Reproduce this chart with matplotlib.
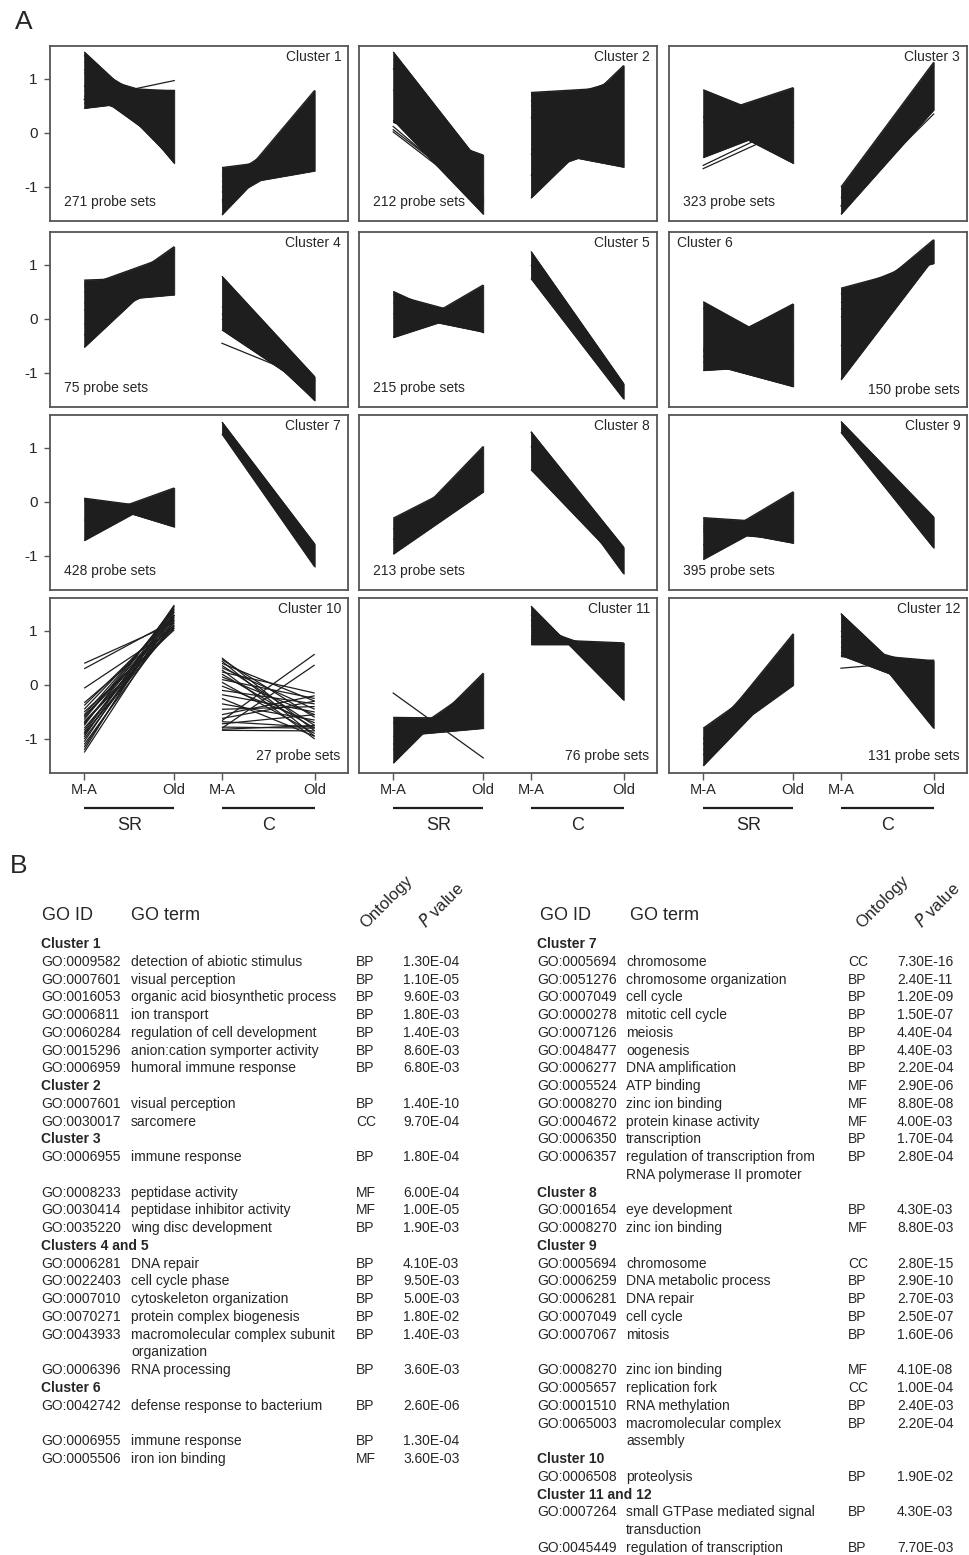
#!/usr/bin/env python3
"""Expression profiles of the 12 probe-set clusters (A) and GO enrichment table (B)."""
import matplotlib
matplotlib.use("Agg")
import matplotlib.pyplot as plt
import numpy as np

plt.rcParams["font.family"] = ["Liberation Sans", "DejaVu Sans"]

# ── panel A data: representative probe-set profiles (M-A value, Old value) ──

PROBE_SETS = [271, 212, 323, 75, 215, 150, 428, 213, 395, 27, 76, 131]

cl1_sr_ma = [1.50, 1.32, 1.11, 0.875, 0.80, 0.46, 0.68, 0.87, 1.18, 1.44, 0.55]
cl1_sr_old = [-0.05, 0.32, 0.61, 0.775, 0.80, 0.66, 0.08, -0.33, -0.52, -0.56, 0.75]
cl1_c_ma = [-0.64, -1.25, -1.51, -1.00, -0.75, -0.80, -1.10, -1.29, -0.90]
cl1_c_old = [-0.42, 0.79, 0.28, -0.70, -0.55, -0.45, 0.40, -0.29, 0.20]

cl2_sr_ma = [1.50, 0.20, 0.24, 1.20, 0.80]
cl2_sr_old = [-0.63, -0.41, -1.50, -1.50, -0.90]
cl2_c_ma = [0.75, -0.40, -1.20, -0.30, 0.60, 0.30, 0.70, 0.50, -0.80, 0.27, -0.77]
cl2_c_old = [0.85, 1.25, 0.47, -0.63, -0.50, -0.40, 0.30, 1.00, 0.90, 1.07, -0.17]

cl3_sr_ma = [0.80, 0.29, -0.45, 0.30, 0.20]
cl3_sr_old = [0.13, 0.84, 0.19, -0.56, 0.80]
cl3_c_ma = [-1.00, -1.50, -1.20]
cl3_c_old = [1.31, 0.43, 0.90]

cl4_sr_ma = [0.72, 0.16, -0.52, 0.30, 0.60, -0.30, 0.65, 0.50, -0.10]
cl4_sr_old = [0.78, 1.34, 1.04, 0.45, 1.20, 1.25, 0.45, 1.10, 0.70]
cl4_c_ma = [0.79, 0.23, 0.00, -0.20, 0.10]
cl4_c_old = [-1.07, -1.51, -1.40, -1.35, -1.50]

cl5_sr_ma = [0.51, -0.34, 0.10, -0.34, 0.45, 0.30]
cl5_sr_old = [-0.25, 0.63, -0.24, 0.20, 0.00, 0.05]
cl5_c_ma = [1.25, 0.75, 1.00]
cl5_c_old = [-1.20, -1.48, -1.35]

cl6_sr_ma = [0.32, -0.60, -0.95, -0.80, -0.56, -0.70, 0.20]
cl6_sr_old = [-0.60, 0.28, -0.85, -1.25, 0.25, 0.20, -1.10]
cl6_c_ma = [0.57, 0.03, -1.12, 0.30, -0.50, 0.45, 0.47, 0.18]
cl6_c_old = [1.03, 1.47, 1.13, 1.25, 1.30, 1.15, 1.17, 1.38]

cl7_sr_ma = [0.07, -0.34, -0.71, 0.05, 0.02]
cl7_sr_old = [-0.15, 0.26, 0.20, -0.46, -0.42]
cl7_c_ma = [1.48, 1.26]
cl7_c_old = [-0.78, -1.20]

cl8_sr_ma = [-0.30, -0.70, -0.96, -0.50]
cl8_sr_old = [0.55, 1.03, 0.19, 0.70]
cl8_c_ma = [1.30, 1.30, 0.60, 1.03]
cl8_c_old = [-0.84, -1.00, -1.19, -1.33]

cl9_sr_ma = [-0.29, -0.80, -1.06, -0.45, -0.50, -0.55]
cl9_sr_old = [-0.40, 0.19, -0.15, -0.76, -0.72, -0.70]
cl9_c_ma = [1.49, 1.29]
cl9_c_old = [-0.28, -0.85]

cl10_sr_ma = [0.40, 0.30, -0.06, -0.33, -0.38, -0.45, -0.50, -0.55, -0.60,
              -0.64, -0.68, -0.72, -0.75, -0.80, -0.84, -0.88, -0.92, -0.96,
              -1.00, -1.05, -1.10, -1.15, -1.20, -1.25, -0.70, -0.58, -0.90]
cl10_sr_old = [1.15, 1.20, 1.05, 1.10, 1.25, 1.30, 1.02, 1.35, 1.15,
               1.40, 1.08, 1.28, 1.45, 1.12, 1.30, 1.38, 1.20, 1.48,
               1.25, 1.42, 1.18, 1.35, 1.46, 1.30, 1.05, 1.22, 1.10]
cl10_c_ma = [0.50, 0.47, 0.44, 0.40, 0.36, 0.32, 0.28, 0.24, 0.20,
             0.15, 0.10, 0.05, -0.02, -0.10, -0.18, -0.25, -0.35, -0.45,
             -0.55, -0.62, -0.68, -0.72, -0.78, -0.82, -0.84, -0.66, -0.80]
cl10_c_old = [-0.85, -0.60, -0.95, -0.30, -0.75, -0.45, -1.00, -0.15, -0.80,
              -0.55, -0.25, -0.90, -0.70, -0.35, -0.50, -0.95, -0.65, -0.40,
              -0.20, -0.30, -0.78, -0.55, -0.80, -0.75, -0.85, 0.57, 0.37]

cl11_sr_ma = [-0.60, -1.44, -0.95, -0.70, -1.20, -1.10]
cl11_sr_old = [-0.62, 0.22, -0.80, -0.78, -0.10, 0.05]
cl11_c_ma = [1.46, 0.75, 0.80, 0.90, 1.20, 1.30, 1.10, 0.85]
cl11_c_old = [-0.28, 0.75, 0.70, 0.65, 0.30, 0.00, 0.50, 0.78]

cl12_sr_ma = [-0.80, -1.10, -1.49, -1.20, -1.00, -1.30]
cl12_sr_old = [0.38, 0.95, 0.24, 0.00, 0.80, 0.60]
cl12_c_ma = [1.32, 1.32, 0.53, 0.60, 0.80, 1.00, 0.55, 0.70, 0.90]
cl12_c_old = [-0.80, -0.30, 0.40, 0.45, 0.30, -0.50, -0.10, 0.10, -0.20]

# single probe sets that stand apart from their bundle
STRAY_CLUSTER = [1, 2, 2, 2, 3, 3, 3, 4, 11, 12]
STRAY_GROUP = ["SR", "SR", "SR", "SR", "SR", "SR", "C", "C", "SR", "C"]
STRAY_MA = [0.62, 0.12, 0.06, 0.02, -0.66, -0.60, -1.35, -0.45, -0.15, 0.31]
STRAY_OLD = [0.97, -1.30, -1.22, -1.26, 0.10, 0.20, 0.35, -1.15, -1.35, 0.46]

PROFILES = [
    (cl1_sr_ma, cl1_sr_old, cl1_c_ma, cl1_c_old),
    (cl2_sr_ma, cl2_sr_old, cl2_c_ma, cl2_c_old),
    (cl3_sr_ma, cl3_sr_old, cl3_c_ma, cl3_c_old),
    (cl4_sr_ma, cl4_sr_old, cl4_c_ma, cl4_c_old),
    (cl5_sr_ma, cl5_sr_old, cl5_c_ma, cl5_c_old),
    (cl6_sr_ma, cl6_sr_old, cl6_c_ma, cl6_c_old),
    (cl7_sr_ma, cl7_sr_old, cl7_c_ma, cl7_c_old),
    (cl8_sr_ma, cl8_sr_old, cl8_c_ma, cl8_c_old),
    (cl9_sr_ma, cl9_sr_old, cl9_c_ma, cl9_c_old),
    (cl10_sr_ma, cl10_sr_old, cl10_c_ma, cl10_c_old),
    (cl11_sr_ma, cl11_sr_old, cl11_c_ma, cl11_c_old),
    (cl12_sr_ma, cl12_sr_old, cl12_c_ma, cl12_c_old),
]

X_TICKLABELS = ["M-A", "Old", "M-A", "Old"]
GROUPS = ["SR", "C"]

# ── panel B data: GO enrichment ──

LEFT_ID = ["Cluster 1", "GO:0009582", "GO:0007601", "GO:0016053", "GO:0006811",
           "GO:0060284", "GO:0015296", "GO:0006959",
           "Cluster 2", "GO:0007601", "GO:0030017",
           "Cluster 3", "GO:0006955", "", "GO:0008233", "GO:0030414", "GO:0035220",
           "Clusters 4 and 5", "GO:0006281", "GO:0022403", "GO:0007010", "GO:0070271",
           "GO:0043933", "", "GO:0006396",
           "Cluster 6", "GO:0042742", "", "GO:0006955", "GO:0005506"]
LEFT_TERM = ["", "detection of abiotic stimulus", "visual perception",
             "organic acid biosynthetic process", "ion transport",
             "regulation of cell development", "anion:cation symporter activity",
             "humoral immune response",
             "", "visual perception", "sarcomere",
             "", "immune response", "", "peptidase activity",
             "peptidase inhibitor activity", "wing disc development",
             "", "DNA repair", "cell cycle phase", "cytoskeleton organization",
             "protein complex biogenesis", "macromolecular complex subunit",
             "organization", "RNA processing",
             "", "defense response to bacterium", "", "immune response",
             "iron ion binding"]
LEFT_ONT = ["", "BP", "BP", "BP", "BP", "BP", "BP", "BP",
            "", "BP", "CC",
            "", "BP", "", "MF", "MF", "BP",
            "", "BP", "BP", "BP", "BP", "BP", "", "BP",
            "", "BP", "", "BP", "MF"]
LEFT_P = ["", "1.30E-04", "1.10E-05", "9.60E-03", "1.80E-03", "1.40E-03",
          "8.60E-03", "6.80E-03",
          "", "1.40E-10", "9.70E-04",
          "", "1.80E-04", "", "6.00E-04", "1.00E-05", "1.90E-03",
          "", "4.10E-03", "9.50E-03", "5.00E-03", "1.80E-02", "1.40E-03", "",
          "3.60E-03",
          "", "2.60E-06", "", "1.30E-04", "3.60E-03"]

RIGHT_ID = ["Cluster 7", "GO:0005694", "GO:0051276", "GO:0007049", "GO:0000278",
            "GO:0007126", "GO:0048477", "GO:0006277", "GO:0005524", "GO:0008270",
            "GO:0004672", "GO:0006350", "GO:0006357", "",
            "Cluster 8", "GO:0001654", "GO:0008270",
            "Cluster 9", "GO:0005694", "GO:0006259", "GO:0006281", "GO:0007049",
            "GO:0007067", "", "GO:0008270", "GO:0005657", "GO:0001510",
            "GO:0065003", "",
            "Cluster 10", "GO:0006508",
            "Cluster 11 and 12", "GO:0007264", "", "GO:0045449"]
RIGHT_TERM = ["", "chromosome", "chromosome organization", "cell cycle",
              "mitotic cell cycle", "meiosis", "oogenesis", "DNA amplification",
              "ATP binding", "zinc ion binding", "protein kinase activity",
              "transcription", "regulation of transcription from",
              "RNA polymerase II promoter",
              "", "eye development", "zinc ion binding",
              "", "chromosome", "DNA metabolic process", "DNA repair", "cell cycle",
              "mitosis", "", "zinc ion binding", "replication fork",
              "RNA methylation", "macromolecular complex", "assembly",
              "", "proteolysis",
              "", "small GTPase mediated signal", "transduction",
              "regulation of transcription"]
RIGHT_ONT = ["", "CC", "BP", "BP", "BP", "BP", "BP", "BP", "MF", "MF", "MF",
             "BP", "BP", "",
             "", "BP", "MF",
             "", "CC", "BP", "BP", "BP", "BP", "", "MF", "CC", "BP", "BP", "",
             "", "BP",
             "", "BP", "", "BP"]
RIGHT_P = ["", "7.30E-16", "2.40E-11", "1.20E-09", "1.50E-07", "4.40E-04",
           "4.40E-03", "2.20E-04", "2.90E-06", "8.80E-08", "4.00E-03",
           "1.70E-04", "2.80E-04", "",
           "", "4.30E-03", "8.80E-03",
           "", "2.80E-15", "2.90E-10", "2.70E-03", "2.50E-07", "1.60E-06", "",
           "4.10E-08", "1.00E-04", "2.40E-03", "2.20E-04", "",
           "", "1.90E-02",
           "", "4.30E-03", "", "7.70E-03"]

# ── style / layout ──

W, H = 969, 1555
INK = "#1e1e1e"
FRAME = "#555555"
TEXT = "#262626"

X_POS = [0.0, 1.0, 1.53, 2.56]      # SR M-A, SR Old, C M-A, C Old
COL_LEFT = [50, 359, 669]
ROW_TOP = [46, 232, 415, 598]
AX_W, AX_H = 298, 175

PROBE_RIGHT = {6, 10, 11, 12}      # probe-set count drawn at bottom right
LABEL_LEFT = {6}                   # cluster label drawn at top left


def draw_bundle(ax, x0, x1, ma, old, solid):
    ma = np.asarray(ma, float)
    old = np.asarray(old, float)
    if solid:
        t = np.linspace(0, 1, 80)
        ys = ma[:, None] * (1 - t) + old[:, None] * t
        ax.fill_between(x0 + (x1 - x0) * t, ys.min(axis=0), ys.max(axis=0),
                        color=INK, lw=0.6, zorder=2)
    for a, b in zip(ma, old):
        ax.plot([x0, x1], [a, b], color=INK, lw=0.9, zorder=3,
                solid_capstyle="butt")


fig = plt.figure(figsize=(W / 100, H / 100), dpi=100)
fig.patch.set_facecolor("white")

for k, (sr_ma, sr_old, c_ma, c_old) in enumerate(PROFILES):
    row, col = divmod(k, 3)
    cl = k + 1
    ax = fig.add_axes([COL_LEFT[col] / W, 1 - (ROW_TOP[row] + AX_H) / H,
                       AX_W / W, AX_H / H])
    solid = PROBE_SETS[k] > 50
    draw_bundle(ax, X_POS[0], X_POS[1], sr_ma, sr_old, solid)
    draw_bundle(ax, X_POS[2], X_POS[3], c_ma, c_old, solid)
    for s_cl, grp, a, b in zip(STRAY_CLUSTER, STRAY_GROUP, STRAY_MA, STRAY_OLD):
        if s_cl == cl:
            i = 0 if grp == "SR" else 2
            ax.plot([X_POS[i], X_POS[i + 1]], [a, b], color=INK, lw=0.9, zorder=3)

    ax.set_xlim(-0.38, 2.93)
    ax.set_ylim(-1.63, 1.61)
    for sp in ax.spines.values():
        sp.set_color(FRAME)
        sp.set_linewidth(1.3)

    if col == 0:
        ax.set_yticks([-1, 0, 1], ["-1", "0", "1"])
        ax.tick_params(axis="y", direction="out", length=4, width=1,
                       color=FRAME, pad=5, labelsize=11, labelcolor=TEXT)
    else:
        ax.set_yticks([])
    if row == 3:
        ax.set_xticks(X_POS, X_TICKLABELS)
        ax.tick_params(axis="x", direction="out", length=5, width=1,
                       color=FRAME, pad=2, labelsize=10.5, labelcolor=TEXT)
        trans = ax.get_xaxis_transform()
        for g, name in enumerate(GROUPS):
            xa, xb = X_POS[2 * g], X_POS[2 * g + 1]
            ax.plot([xa, xb], [-0.2, -0.2], transform=trans, clip_on=False,
                    color=INK, lw=1.6, solid_capstyle="butt")
            ax.text((xa + xb) / 2, -0.3, name, transform=trans, ha="center",
                    va="center", fontsize=13, color=TEXT)
    else:
        ax.set_xticks([])

    if cl in LABEL_LEFT:
        ax.text(0.027, 0.935, f"Cluster {cl}", transform=ax.transAxes,
                ha="left", va="center", fontsize=10, color=TEXT)
    else:
        ax.text(0.977, 0.937, f"Cluster {cl}", transform=ax.transAxes,
                ha="right", va="center", fontsize=10, color=TEXT)
    if cl in PROBE_RIGHT:
        ax.text(0.975, 0.095, f"{PROBE_SETS[k]} probe sets",
                transform=ax.transAxes, ha="right", va="center",
                fontsize=10, color=TEXT)
    else:
        ax.text(0.047, 0.11, f"{PROBE_SETS[k]} probe sets",
                transform=ax.transAxes, ha="left", va="center",
                fontsize=10, color=TEXT)

# ── panel labels and table (pixel coordinates) ──

axb = fig.add_axes([0, 0, 1, 1], zorder=-1)
axb.set_xlim(0, W)
axb.set_ylim(H, 0)
axb.axis("off")

axb.text(15, 22, "A", fontsize=19, ha="left", va="center", color=TEXT)
axb.text(10, 866, "B", fontsize=19, ha="left", va="center", color=TEXT)

ROW0, PITCH = 944, 17.76


def draw_table(x_id, x_term, x_ont, x_p, ids, terms, onts, pvals, hdr_x):
    axb.text(hdr_x[0], 916, "GO ID", fontsize=13, ha="left", va="center", color=TEXT)
    axb.text(hdr_x[1], 916, "GO term", fontsize=13, ha="left", va="center", color=TEXT)
    axb.text(hdr_x[2], 929, "Ontology", fontsize=12, rotation=45,
             rotation_mode="anchor", ha="left", va="baseline", color=TEXT)
    axb.text(hdr_x[3], 929, "$\\it{P}$ value", fontsize=12, rotation=45,
             rotation_mode="anchor", ha="left", va="baseline", color=TEXT)
    for i, (gid, term, ont, pv) in enumerate(zip(ids, terms, onts, pvals)):
        y = ROW0 + i * PITCH
        if gid.startswith("Cluster"):
            axb.text(x_id, y, gid, fontsize=10, fontweight="bold",
                     ha="left", va="center", color=TEXT)
            continue
        axb.text(x_id, y, gid, fontsize=10, ha="left", va="center", color=TEXT)
        axb.text(x_term, y, term, fontsize=10, ha="left", va="center", color=TEXT)
        axb.text(x_ont, y, ont, fontsize=10, ha="left", va="center", color=TEXT)
        axb.text(x_p, y, pv, fontsize=10, ha="left", va="center", color=TEXT)


draw_table(41, 131, 356, 403, LEFT_ID, LEFT_TERM, LEFT_ONT, LEFT_P,
           (42, 131, 366, 426))
draw_table(537, 626, 848, 897, RIGHT_ID, RIGHT_TERM, RIGHT_ONT, RIGHT_P,
           (540, 630, 862, 922))

fig.savefig("out.png", dpi=100, facecolor="white")
